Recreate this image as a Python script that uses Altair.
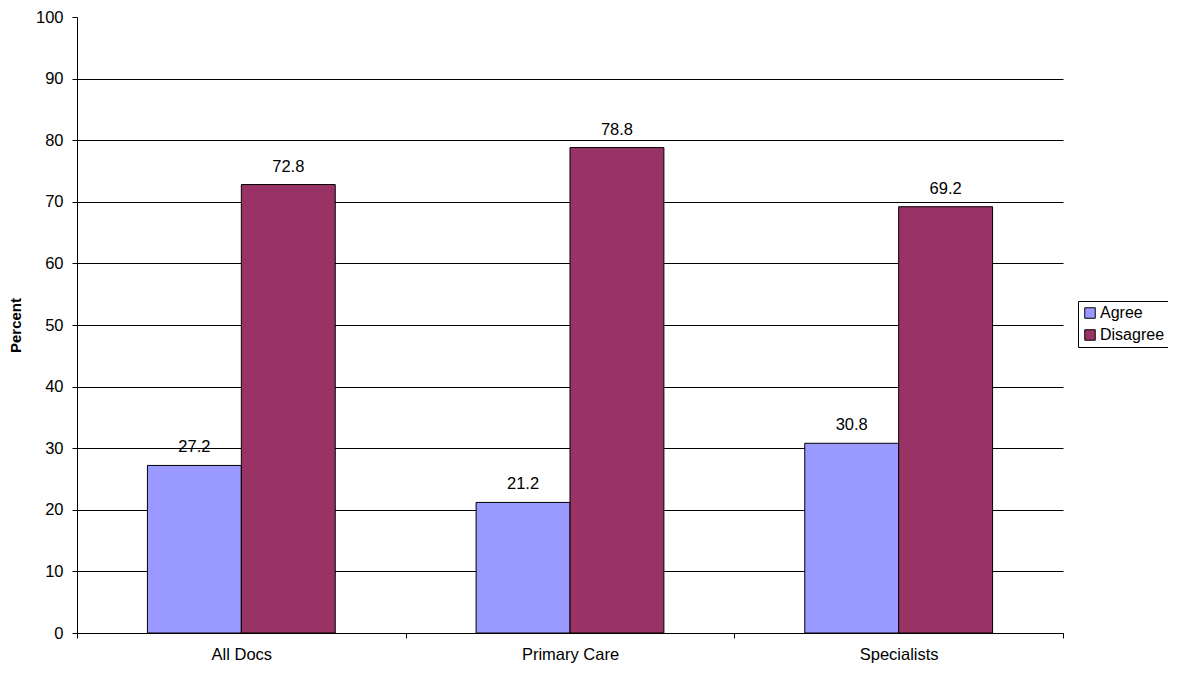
import altair as alt
import pandas as pd

categories = ["All Docs", "Primary Care", "Specialists"]
series = ["Agree", "Disagree"]
agree = [27.2, 21.2, 30.8]
disagree = [72.8, 78.8, 69.2]

rows = []
for i, c in enumerate(categories):
    rows.append({"category": c, "series": "Agree", "value": agree[i]})
    rows.append({"category": c, "series": "Disagree", "value": disagree[i]})
df = pd.DataFrame(rows)

FONT = "Liberation Sans"
FS = 16.5

x = alt.X("category:N", sort=categories, title=None,
          scale=alt.Scale(paddingInner=0, paddingOuter=0),
          axis=alt.Axis(labelAngle=0, tickBand="extent", labelFontSize=FS,
                        labelFont=FONT, labelColor="black", domainColor="black",
                        tickColor="black", tickSize=5, labelPadding=8, grid=False))
xo = alt.XOffset("series:N", sort=series, scale=alt.Scale(paddingInner=0, paddingOuter=0.75))
y = alt.Y("value:Q", title="Percent",
          scale=alt.Scale(domain=[0, 100], nice=False),
          axis=alt.Axis(values=list(range(0, 101, 10)), labelFontSize=FS, labelFont=FONT,
                        labelColor="black", domainColor="black", tickColor="black",
                        tickSize=5, labelPadding=9, titleFont=FONT, titleFontSize=15,
                        titleFontWeight="bold", titleColor="black", titlePadding=12,
                        grid=True, gridColor="black",
                        gridOpacity=alt.condition("datum.value == 100", alt.value(0), alt.value(1))))

bars = alt.Chart(df).mark_bar(stroke="black", strokeWidth=1).encode(
    x=x, xOffset=xo, y=y,
    color=alt.Color("series:N", sort=series,
                    scale=alt.Scale(domain=series, range=["#9999FF", "#993366"]),
                    legend=alt.Legend(title=None, orient="none", legendX=1001, legendY=284,
                                      symbolType="square", symbolSize=110,
                                      symbolStrokeColor="black", symbolStrokeWidth=1,
                                      labelFont=FONT, labelFontSize=16, labelColor="black",
                                      strokeColor="black", padding=4, rowPadding=6,
                                      labelOffset=2)),
)

labels = alt.Chart(df).mark_text(dy=-18, fontSize=FS, font=FONT, color="black").encode(
    x=alt.X("category:N", sort=categories),
    xOffset=alt.XOffset("series:N", sort=series),
    y="value:Q",
    text=alt.Text("value:Q", format=".1f"),
)

chart = alt.layer(bars, labels).properties(
    width=986, height=616,
    autosize=alt.AutoSizeParams(type="none"),
    padding={"left": 69, "top": 9, "right": 105, "bottom": 32},
).configure_view(stroke=None).configure_axis(domainWidth=1, gridWidth=1)

chart.save("out.html", embed_options={"renderer": "svg", "actions": False})
